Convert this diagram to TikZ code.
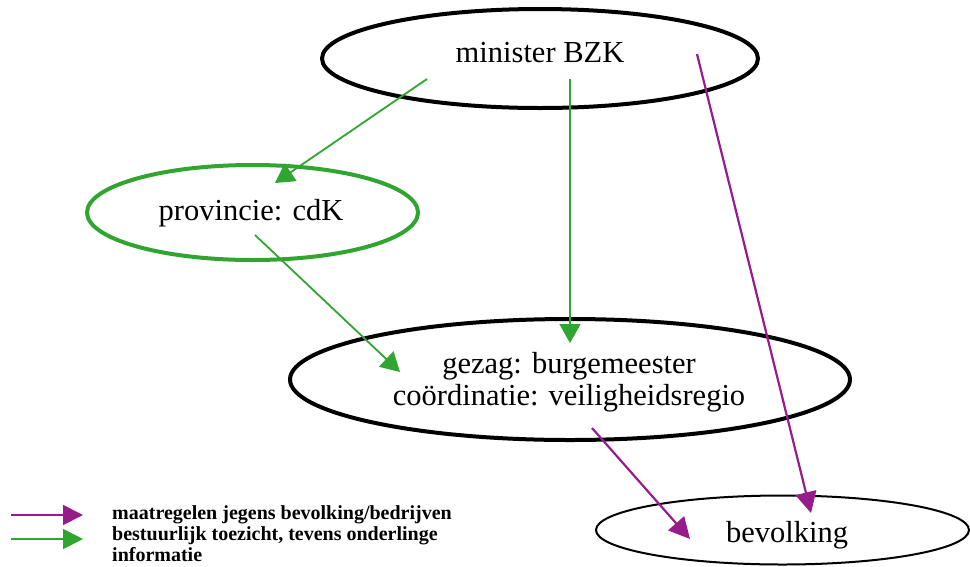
\documentclass[tikz,border=0pt]{standalone}
\usepackage{fontspec}
\setmainfont{Liberation Serif}
\usetikzlibrary{shapes.geometric,arrows.meta}
\definecolor{grn}{RGB}{48,165,48}
\definecolor{prp}{RGB}{150,28,140}
\tikzset{
  ell/.style={ellipse, draw, inner sep=0pt, line width=4pt},
  lbl/.style={inner sep=0pt, font=\fontsize{30.5}{32}\selectfont, anchor=base},
  leg/.style={inner sep=0pt, font=\fontsize{20}{21}\selectfont\bfseries, anchor=base west},
  garr/.style={draw=grn, line width=1.8pt, -{Triangle[length=19pt,width=21pt]}, color=grn},
  parr/.style={draw=prp, line width=2.2pt, -{Triangle[length=21pt,width=21pt]}, color=prp},
}
\begin{document}
\begin{tikzpicture}[x=1pt,y=-1pt]
\useasboundingbox (0,0) rectangle (970,566);
% ellipses
\node[ell, minimum width=436pt, minimum height=99pt] (min) at (540,58.5) {};
\node[ell, draw=grn, minimum width=331pt, minimum height=95pt] (prov) at (252.5,212.5) {};
\node[ell, minimum width=560pt, minimum height=121pt] (gez) at (570,379.5) {};
\node[ell, line width=2pt, minimum width=373pt, minimum height=69pt] (bev) at (782.5,530) {};
% texts
\node[lbl] (tmin) at (540,62) {minister BZK};
\node[lbl] (tprov) at (251,220) {provincie: cdK};
\node[lbl] (tgez1) at (569,373) {gezag: burgemeester};
\node[lbl] (tgez2) at (569,405) {coördinatie: veiligheidsregio};
\node[lbl] (tbev) at (787,542) {bevolking};
% arrow endpoints
\coordinate (a1s) at (427,79);
\coordinate (a1e) at (275,183);
\coordinate (a2s) at (570,79);
\coordinate (a2e) at (570,343);
\coordinate (a3s) at (255,235);
\coordinate (a3e) at (400,372);
\coordinate (p1s) at (697,54);
\coordinate (p1e) at (811,513);
\coordinate (p2s) at (592,428);
\coordinate (p2e) at (690,539);
\draw[garr] (a1s) -- (a1e);
\draw[garr] (a2s) -- (a2e);
\draw[garr] (a3s) -- (a3e);
\draw[parr] (p1s) -- (p1e);
\draw[parr] (p2s) -- (p2e);
% legend
\coordinate (l1s) at (11,515);
\coordinate (l1e) at (83,515);
\coordinate (l2s) at (11,539);
\coordinate (l2e) at (83,539);
\draw[parr, line width=1.8pt, -{Triangle[length=20pt,width=20pt]}] (l1s) -- (l1e);
\draw[garr, -{Triangle[length=20pt,width=20pt]}] (l2s) -- (l2e);
\node[leg] (leg1) at (112,519) {maatregelen jegens bevolking/bedrijven};
\node[leg] (leg2) at (112,540) {bestuurlijk toezicht, tevens onderlinge};
\node[leg] (leg3) at (112,561) {informatie};
\end{tikzpicture}
\end{document}
